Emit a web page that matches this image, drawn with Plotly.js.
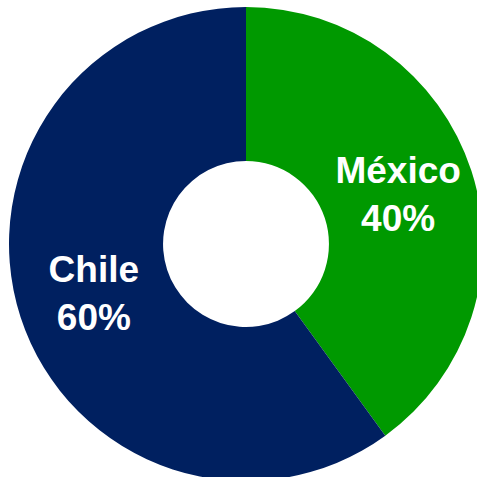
<!DOCTYPE html>
<html>
<head>
<meta charset="utf-8">
<script src="https://cdn.plot.ly/plotly-3.0.1.min.js"></script>
<style>
html,body{margin:0;padding:0;overflow:hidden;background:#fff;width:477px;height:477px;}
#chart{width:483px;height:481px;}
</style>
</head>
<body>
<div id="chart"></div>
<script>
const labels = ["México", "Chile"];
const values = [40, 60];
const colors = ["#009900", "#002060"];

const trace = {
  type: "pie",
  labels: labels,
  values: values,
  hole: 0.35,
  sort: false,
  direction: "clockwise",
  rotation: 0,
  marker: {colors: colors, line: {width: 0}},
  texttemplate: "%{label}<br>%{percent}",
  textposition: "inside",
  insidetextorientation: "horizontal",
  textfont: {family: "Liberation Sans, Arial, sans-serif", size: 37, color: "#ffffff", weight: "bold"},
  showlegend: false,
  hoverinfo: "none"
};

Plotly.newPlot("chart", [trace], {
  width: 483,
  height: 481,
  margin: {l: 9, r: 0, t: 7, b: 0},
  paper_bgcolor: "#ffffff",
  showlegend: false
}, {displayModeBar: false, staticPlot: true});
</script>
</body>
</html>
